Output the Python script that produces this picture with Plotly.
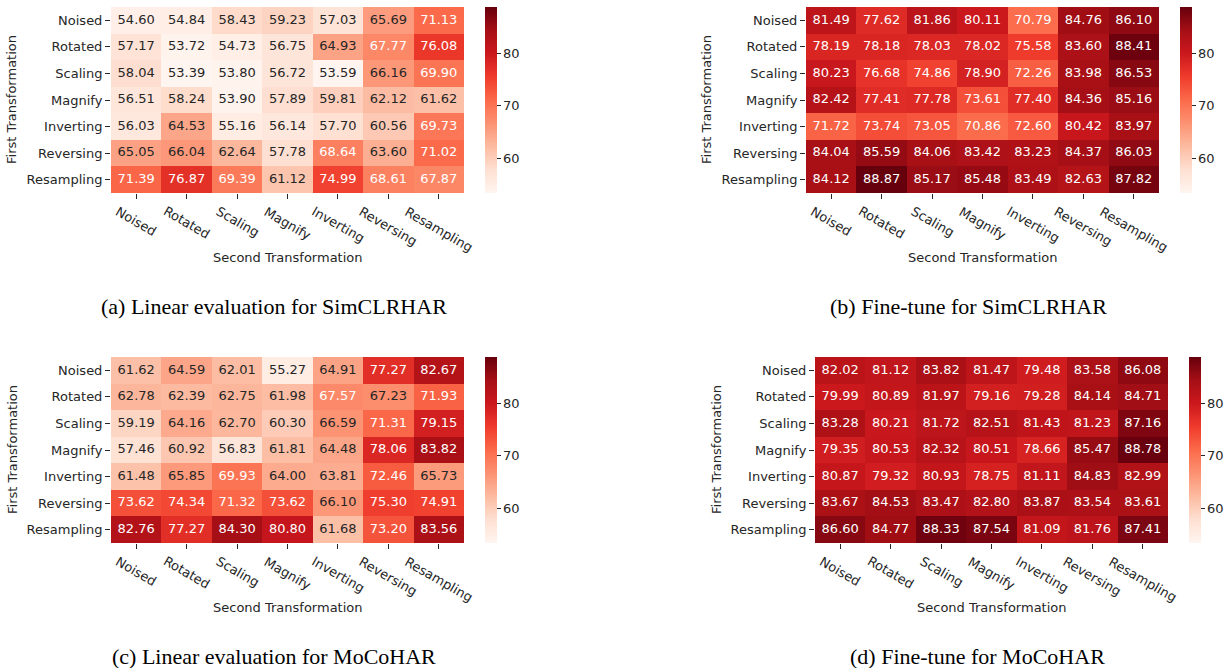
import plotly.graph_objects as go
from plotly.colors import sequential

# ---------------- data ----------------
transforms = ["Noised", "Rotated", "Scaling", "Magnify", "Inverting", "Reversing", "Resampling"]
first_transformation = transforms
second_transformation = transforms

linear_simclrhar = [
    [54.60, 54.84, 58.43, 59.23, 57.03, 65.69, 71.13],
    [57.17, 53.72, 54.73, 56.75, 64.93, 67.77, 76.08],
    [58.04, 53.39, 53.80, 56.72, 53.59, 66.16, 69.90],
    [56.51, 58.24, 53.90, 57.89, 59.81, 62.12, 61.62],
    [56.03, 64.53, 55.16, 56.14, 57.70, 60.56, 69.73],
    [65.05, 66.04, 62.64, 57.78, 68.64, 63.60, 71.02],
    [71.39, 76.87, 69.39, 61.12, 74.99, 68.61, 67.87],
]
finetune_simclrhar = [
    [81.49, 77.62, 81.86, 80.11, 70.79, 84.76, 86.10],
    [78.19, 78.18, 78.03, 78.02, 75.58, 83.60, 88.41],
    [80.23, 76.68, 74.86, 78.90, 72.26, 83.98, 86.53],
    [82.42, 77.41, 77.78, 73.61, 77.40, 84.36, 85.16],
    [71.72, 73.74, 73.05, 70.86, 72.60, 80.42, 83.97],
    [84.04, 85.59, 84.06, 83.42, 83.23, 84.37, 86.03],
    [84.12, 88.87, 85.17, 85.48, 83.49, 82.63, 87.82],
]
linear_mocohar = [
    [61.62, 64.59, 62.01, 55.27, 64.91, 77.27, 82.67],
    [62.78, 62.39, 62.75, 61.98, 67.57, 67.23, 71.93],
    [59.19, 64.16, 62.70, 60.30, 66.59, 71.31, 79.15],
    [57.46, 60.92, 56.83, 61.81, 64.48, 78.06, 83.82],
    [61.48, 65.85, 69.93, 64.00, 63.81, 72.46, 65.73],
    [73.62, 74.34, 71.32, 73.62, 66.10, 75.30, 74.91],
    [82.76, 77.27, 84.30, 80.80, 61.68, 73.20, 83.56],
]
finetune_mocohar = [
    [82.02, 81.12, 83.82, 81.47, 79.48, 83.58, 86.08],
    [79.99, 80.89, 81.97, 79.16, 79.28, 84.14, 84.71],
    [83.28, 80.21, 81.72, 82.51, 81.43, 81.23, 87.16],
    [79.35, 80.53, 82.32, 80.51, 78.66, 85.47, 88.78],
    [80.87, 79.32, 80.93, 78.75, 81.11, 84.83, 82.99],
    [83.67, 84.53, 83.47, 82.80, 83.87, 83.54, 83.61],
    [86.60, 84.77, 88.33, 87.54, 81.09, 81.76, 87.41],
]
captions = [
    "(a) Linear evaluation for SimCLRHAR",
    "(b) Fine-tune for SimCLRHAR",
    "(c) Linear evaluation for MoCoHAR",
    "(d) Fine-tune for MoCoHAR",
]
colorbar_ticks = [60, 70, 80]

# ---------------- styling / layout ----------------
W, H = 1225, 668
reds = list(sequential.Reds)
all_vals = [v for m in (linear_simclrhar, finetune_simclrhar, linear_mocohar, finetune_mocohar) for r in m for v in r]
zmin, zmax = min(all_vals), max(all_vals)
colorscale = [[i / (len(reds) - 1), c] for i, c in enumerate(reds)]


def parse_rgb(s):
    return [float(t) for t in s[s.index("(") + 1:s.index(")")].split(",")]


def color_at(v):
    t = (v - zmin) / (zmax - zmin)
    t = min(max(t, 0), 1)
    pos = t * (len(reds) - 1)
    i = min(int(pos), len(reds) - 2)
    f = pos - i
    a, b = parse_rgb(reds[i]), parse_rgb(reds[i + 1])
    return [a[k] + (b[k] - a[k]) * f for k in range(3)]


def luminance(rgb):
    out = []
    for c in rgb:
        c = c / 255.0
        out.append(c / 12.92 if c <= 0.03928 else ((c + 0.055) / 1.055) ** 2.4)
    return 0.2126 * out[0] + 0.7152 * out[1] + 0.0722 * out[2]


# pixel boxes of each heatmap: (left, right, top, bottom), colorbar left
panels = [
    (linear_simclrhar, (111, 464, 7, 193), 485),
    (finetune_simclrhar, (806, 1159, 7, 193), 1180),
    (linear_mocohar, (111, 464, 357, 543), 485),
    (finetune_mocohar, (815, 1168, 357, 543), 1189),
]

FONT = "DejaVu Sans"
TXT = "#262626"
ncols = len(second_transformation)
nrows = len(first_transformation)

fig = go.Figure()
annotations = []
layout_axes = {}

for k, (mat, (l, r, t, b), cbx) in enumerate(panels):
    n = k + 1
    xa = "x" if n == 1 else f"x{n}"
    ya = "y" if n == 1 else f"y{n}"
    xkey = "xaxis" if n == 1 else f"xaxis{n}"
    ykey = "yaxis" if n == 1 else f"yaxis{n}"

    fig.add_trace(go.Heatmap(
        z=mat, x=second_transformation, y=first_transformation,
        colorscale=colorscale, zmin=zmin, zmax=zmax,
        xaxis=xa, yaxis=ya, hoverinfo="skip",
        colorbar=dict(
            x=cbx / W, xanchor="left", xpad=0, ypad=0,
            y=1 - (t + b) / 2 / H, yanchor="middle",
            len=(b - t) / H, lenmode="fraction",
            thickness=12, thicknessmode="pixels",
            outlinewidth=0,
            tickvals=colorbar_ticks, ticks="outside", ticklen=4,
            tickcolor=TXT, tickfont=dict(family=FONT, size=13, color=TXT),
        ),
    ))

    xs, ys, texts, colors = [], [], [], []
    for i, row in enumerate(mat):
        for j, v in enumerate(row):
            xs.append(second_transformation[j])
            ys.append(first_transformation[i])
            texts.append(f"{v:.2f}")
            colors.append(TXT if luminance(color_at(v)) > 0.408 else "white")
    fig.add_trace(go.Scatter(
        x=xs, y=ys, text=texts, mode="text", xaxis=xa, yaxis=ya,
        textfont=dict(family=FONT, size=13, color=colors),
        hoverinfo="skip", showlegend=False,
    ))

    layout_axes[xkey] = dict(
        domain=[l / W, r / W], anchor=ya, type="category",
        range=[-0.5, ncols - 0.5],
        showgrid=False, zeroline=False, showline=False,
        ticks="outside", ticklen=5, tickcolor=TXT, showticklabels=False,
        categoryorder="array", categoryarray=second_transformation,
    )
    layout_axes[ykey] = dict(
        domain=[1 - b / H, 1 - t / H], anchor=xa, type="category",
        range=[nrows - 0.5, -0.5],
        showgrid=False, zeroline=False, showline=False,
        ticks="outside", ticklen=5, tickcolor=TXT,
        tickfont=dict(family=FONT, size=13, color=TXT),
        categoryorder="array", categoryarray=first_transformation,
    )

    # rotated x tick labels, centred under each tick
    for name in second_transformation:
        annotations.append(dict(
            x=name, xref=xa, y=1 - (b + 8) / H, yref="paper",
            text=name, textangle=30, showarrow=False,
            xanchor="center", yanchor="top",
            font=dict(family=FONT, size=13, color=TXT),
        ))
    # axis titles
    annotations.append(dict(
        x=(l + r) / 2 / W, xref="paper", y=1 - (b + 64) / H, yref="paper",
        text="Second Transformation", showarrow=False,
        xanchor="center", yanchor="middle",
        font=dict(family=FONT, size=13, color=TXT),
    ))
    annotations.append(dict(
        x=(l - 99) / W, xref="paper", y=1 - (t + b) / 2 / H, yref="paper",
        text="First Transformation", showarrow=False, textangle=-90,
        xanchor="center", yanchor="middle",
        font=dict(family=FONT, size=13, color=TXT),
    ))
    # sub-caption
    annotations.append(dict(
        x=(l + r) / 2 / W - 14 / W, xref="paper", y=1 - (b + 113) / H, yref="paper",
        text=captions[k], showarrow=False,
        xanchor="center", yanchor="middle",
        font=dict(family="Liberation Serif", size=22, color="black"),
    ))

fig.update_layout(
    width=W, height=H,
    margin=dict(l=0, r=0, t=0, b=0, autoexpand=False),
    paper_bgcolor="white", plot_bgcolor="white",
    showlegend=False,
    annotations=annotations,
    **layout_axes,
)

fig.write_html(
    "out.html",
    config={"displayModeBar": False},
    post_script="document.body.style.margin='0px';document.body.style.padding='0px';",
)
